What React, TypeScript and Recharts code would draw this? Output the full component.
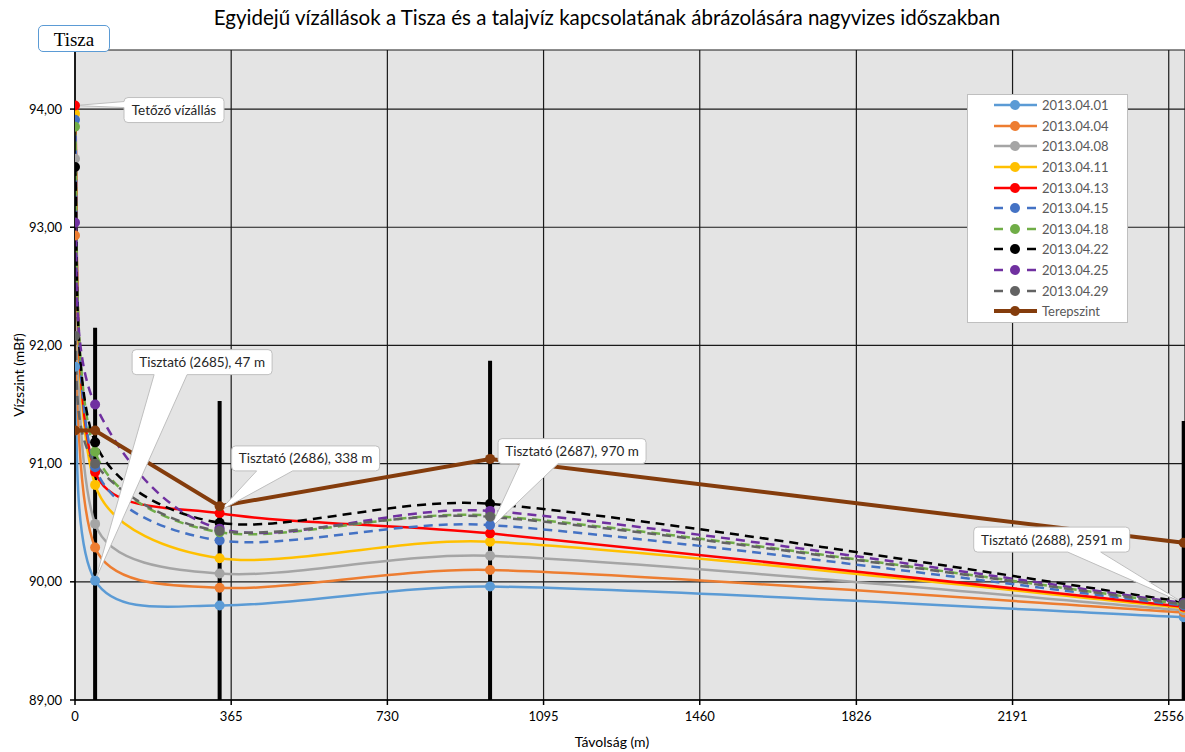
import React from "react";
import {
  LineChart,
  Line,
  XAxis,
  YAxis,
  CartesianGrid,
  ReferenceLine,
  ReferenceDot,
  Legend,
} from "recharts";

// distances of the measuring points from the river (m)
const distances = [0, 47, 338, 970, 2591];

const xTicks = [0, 365, 730, 1095, 1460, 1826, 2191, 2556];
const yTicks = [89, 90, 91, 92, 93, 94];

// water levels (mBf) at each distance
const w0401 = [91.82, 90.01, 89.8, 89.96, 89.7];
const w0404 = [92.93, 90.29, 89.95, 90.1, 89.74];
const w0408 = [93.58, 90.49, 90.07, 90.22, 89.76];
const w0411 = [93.96, 90.82, 90.2, 90.34, 89.78];
const w0413 = [94.03, 90.93, 90.58, 90.41, 89.79];
const w0415 = [93.91, 90.97, 90.35, 90.48, 89.8];
const w0418 = [93.85, 91.1, 90.42, 90.56, 89.81];
const w0422 = [93.51, 91.18, 90.5, 90.66, 89.83];
const w0425 = [93.04, 91.5, 90.45, 90.6, 89.82];
const w0429 = [92.08, 91.0, 90.43, 90.55, 89.81];
const terep = [91.28, 91.28, 90.64, 91.04, 90.33];

// observation wells: distance and top of pipe
const wellX = [47, 338, 970, 2591];
const wellTop = [92.15, 91.53, 91.87, 91.36];

const series = [
  { key: "d0401", name: "2013.04.01", values: w0401, color: "#5b9bd5", dashed: false },
  { key: "d0404", name: "2013.04.04", values: w0404, color: "#ed7d31", dashed: false },
  { key: "d0408", name: "2013.04.08", values: w0408, color: "#a5a5a5", dashed: false },
  { key: "d0411", name: "2013.04.11", values: w0411, color: "#ffc000", dashed: false },
  { key: "d0413", name: "2013.04.13", values: w0413, color: "#ff0000", dashed: false },
  { key: "d0415", name: "2013.04.15", values: w0415, color: "#4472c4", dashed: true },
  { key: "d0418", name: "2013.04.18", values: w0418, color: "#70ad47", dashed: true },
  { key: "d0422", name: "2013.04.22", values: w0422, color: "#000000", dashed: true },
  { key: "d0425", name: "2013.04.25", values: w0425, color: "#7030a0", dashed: true },
  { key: "d0429", name: "2013.04.29", values: w0429, color: "#636363", dashed: true },
];

const data = distances.map((x, i) => {
  const row: Record<string, number> = { x, terep: terep[i] };
  series.forEach((s) => (row[s.key] = s.values[i]));
  return row;
});

// callouts: anchor in data units, box offset from anchor in px
const callouts = [
  { x: 0, y: 94.03, text: "Tetőző vízállás", dx: 49, dy: -8, w: 100, side: "left", a: 4, b: 10 },
  { x: 47, y: 90.01, text: "Tisztató (2685), 47 m", dx: 37, dy: -231, w: 140, side: "bottom", a: 22, b: 55 },
  { x: 338, y: 90.6, text: "Tisztató (2686), 338 m", dx: 12, dy: -65, w: 148, side: "bottom", a: 25, b: 61 },
  { x: 970, y: 90.45, text: "Tisztató (2687), 970 m", dx: 8, dy: -90, w: 148, side: "bottom", a: 22, b: 60 },
  { x: 2591, y: 89.82, text: "Tisztató (2688), 2591 m", dx: -210, dy: -76, w: 156, side: "bottom", a: 94, b: 127 },
];

const FONT = "Lato, 'Liberation Sans', sans-serif";

const fmtY = (v: number) => v.toFixed(2).replace(".", ",");

// spreadsheet-style smoothed line: Catmull-Rom handles (1/6) in screen space,
// handle length kept below a third of the segment
const smoothCurve = (context: any) => {
  let pts: number[][] = [];
  const handle = (a: number[], b: number[], from: number[], to: number[]) => {
    let hx = (b[0] - a[0]) / 6;
    let hy = (b[1] - a[1]) / 6;
    const len = Math.hypot(hx, hy);
    const max = Math.hypot(to[0] - from[0], to[1] - from[1]) / 3;
    if (len > max && len > 0) {
      hx *= max / len;
      hy *= max / len;
    }
    return [hx, hy];
  };
  return {
    areaStart() {},
    areaEnd() {},
    lineStart() {
      pts = [];
    },
    point(x: number, y: number) {
      pts.push([+x, +y]);
    },
    lineEnd() {
      const n = pts.length;
      if (!n) return;
      context.moveTo(pts[0][0], pts[0][1]);
      if (n === 2) {
        context.lineTo(pts[1][0], pts[1][1]);
        return;
      }
      for (let i = 0; i < n - 1; i++) {
        const p0 = pts[Math.max(i - 1, 0)];
        const p1 = pts[i];
        const p2 = pts[i + 1];
        const p3 = pts[Math.min(i + 2, n - 1)];
        const h1 = handle(p0, p2, p1, p2);
        const h2 = handle(p1, p3, p1, p2);
        context.bezierCurveTo(p1[0] + h1[0], p1[1] + h1[1], p2[0] - h2[0], p2[1] - h2[1], p2[0], p2[1]);
      }
    },
  };
};

const calloutPath = (cx: number, cy: number, c: typeof callouts[number]) => {
  const h = 25;
  const r = 4;
  const x = cx + c.dx;
  const y = cy + c.dy;
  const w = c.w;
  let d = `M${x + r},${y} H${x + w - r} Q${x + w},${y} ${x + w},${y + r} V${y + h - r} Q${x + w},${y + h} ${x + w - r},${y + h}`;
  if (c.side === "bottom") {
    d += ` H${x + c.b} L${cx},${cy} L${x + c.a},${y + h}`;
  }
  d += ` H${x + r} Q${x},${y + h} ${x},${y + h - r}`;
  if (c.side === "left") {
    d += ` V${y + c.b} L${cx},${cy} L${x},${y + c.a}`;
  }
  d += ` V${y + r} Q${x},${y} ${x + r},${y} Z`;
  return d;
};

const Callout = (props: any) => {
  const { cx, cy, c } = props;
  if (cx == null || cy == null) return null;
  return (
    <g>
      <path d={calloutPath(cx, cy, c)} fill="#ffffff" stroke="#bfbfbf" strokeWidth={1} />
      <text
        x={cx + c.dx + c.w / 2}
        y={cy + c.dy + 17.5}
        textAnchor="middle"
        fontFamily={FONT}
        fontSize={13.5}
        fill="#262626"
      >
        {c.text}
      </text>
    </g>
  );
};

const LegendBox = () => (
  <div
    style={{
      width: 159,
      background: "#ffffff",
      border: "1px solid #bfbfbf",
      fontFamily: FONT,
      fontSize: 13,
      color: "#595959",
    }}
  >
    {[...series, { key: "terep", name: "Terepszint", color: "#843c0c", dashed: false }].map((s) => (
      <div key={s.key} style={{ height: 20.6, display: "flex", alignItems: "center" }}>
        <svg width={74} height={20} style={{ flex: "none" }}>
          {s.dashed ? (
            <g stroke={s.color} strokeWidth={2.5}>
              <line x1={26} y1={10} x2={35} y2={10} />
              <line x1={59} y1={10} x2={68} y2={10} />
            </g>
          ) : (
            <line x1={26} y1={10} x2={69} y2={10} stroke={s.color} strokeWidth={s.key === "terep" ? 4 : 2.5} />
          )}
          <circle cx={47} cy={10} r={5} fill={s.color} />
        </svg>
        <span>{s.name}</span>
      </div>
    ))}
  </div>
);

export default function App() {
  return (
    <div
      style={{
        position: "absolute",
        left: 0,
        top: 0,
        width: 1185,
        height: 752,
        background: "#ffffff",
        overflow: "hidden",
      }}
    >
      <div
        style={{
          position: "absolute",
          left: 0,
          width: 1214,
          top: 5,
          textAlign: "center",
          fontFamily: FONT,
          fontSize: 20.5,
          color: "#000",
          whiteSpace: "nowrap",
        }}
      >
        Egyidejű vízállások a Tisza és a talajvíz kapcsolatának ábrázolására nagyvizes időszakban
      </div>
      <div
        style={{
          position: "absolute",
          left: 38,
          top: 25,
          width: 70,
          height: 25,
          border: "1.5px solid #5b9bd5",
          borderRadius: 5,
          background: "#fff",
          fontFamily: "'Liberation Serif', 'DejaVu Serif', serif",
          fontSize: 19,
          lineHeight: "27px",
          textAlign: "center",
          color: "#000",
          zIndex: 2,
        }}
      >
        Tisza
      </div>
      <LineChart
        width={1185}
        height={752}
        data={data}
        margin={{ top: 50, right: 0, bottom: 0, left: 0 }}
      >
        <CartesianGrid fill="#e4e4e4" stroke="#1a1a1a" strokeWidth={1.2} />
        <XAxis
          dataKey="x"
          type="number"
          domain={[0, 2594]}
          ticks={xTicks}
          allowDataOverflow
          height={52}
          stroke="#000"
          strokeWidth={1.5}
          tickSize={5}
          tickMargin={7}
          tick={{ fill: "#000", fontSize: 13, fontFamily: FONT }}
          label={{
            content: (p: any) => (
              <text
                x={p.viewBox.x + p.viewBox.width / 2 - 18}
                y={p.viewBox.y + 47}
                textAnchor="middle"
                fontFamily={FONT}
                fontSize={14}
                fill="#000"
              >
                Távolság (m)
              </text>
            ),
          }}
        />
        <YAxis
          type="number"
          domain={[89, 94.5]}
          ticks={yTicks}
          allowDataOverflow
          width={75}
          stroke="#000"
          strokeWidth={1.5}
          tickSize={5}
          tickMargin={8}
          tickFormatter={fmtY}
          tick={{ fill: "#000", fontSize: 13, fontFamily: FONT }}
          label={{
            content: (p: any) => {
              const x = p.viewBox.x + 18;
              const y = p.viewBox.y + p.viewBox.height / 2;
              return (
                <text
                  x={x}
                  y={y}
                  transform={`rotate(-90 ${x} ${y})`}
                  textAnchor="middle"
                  dominantBaseline="central"
                  fontFamily={FONT}
                  fontSize={14}
                  fill="#000"
                >
                  Vízszint (mBf)
                </text>
              );
            },
          }}
        />

        {/* wells */}
        {wellX.map((x, i) => (
          <ReferenceLine
            key={`well-${x}`}
            segment={[
              { x, y: 89 },
              { x, y: wellTop[i] },
            ]}
            stroke="#000"
            strokeWidth={4}
            ifOverflow="visible"
          />
        ))}

        {series.map((s) => (
          <Line
            key={s.key}
            dataKey={s.key}
            name={s.name}
            type={smoothCurve as any}
            stroke={s.color}
            strokeWidth={2.5}
            strokeDasharray={s.dashed ? "9 6" : undefined}
            dot={{ r: 5, fill: s.color, stroke: s.color, strokeWidth: 0, strokeDasharray: "" }}
            activeDot={false}
            isAnimationActive={false}
          />
        ))}
        <Line
          dataKey="terep"
          name="Terepszint"
          type="linear"
          stroke="#843c0c"
          strokeWidth={4}
          dot={{ r: 5, fill: "#843c0c", stroke: "#843c0c", strokeWidth: 0 }}
          activeDot={false}
          isAnimationActive={false}
        />

        {callouts.map((c) => (
          <ReferenceDot
            key={c.text}
            x={c.x}
            y={c.y}
            r={0}
            ifOverflow="visible"
            shape={(p: any) => <Callout {...p} c={c} />}
          />
        ))}

        <Legend
          layout="horizontal"
          verticalAlign="middle"
          align="center"
          wrapperStyle={{ position: "absolute", left: 967, top: 94, width: 161 }}
          content={() => <LegendBox />}
        />
      </LineChart>
    </div>
  );
}
